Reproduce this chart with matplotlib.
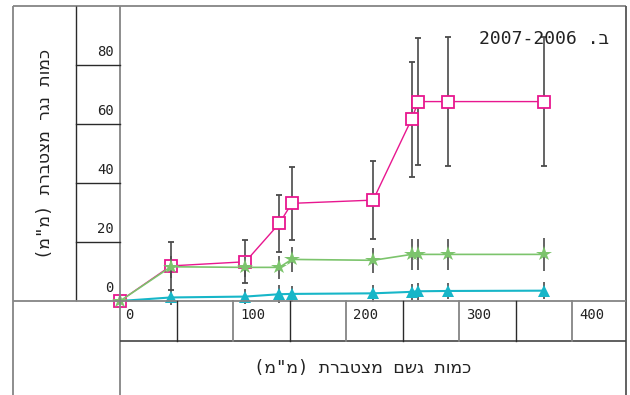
import matplotlib
matplotlib.use('Agg')
import matplotlib.pyplot as plt
from matplotlib.lines import Line2D
import matplotlib.transforms as mtransforms

# ---------------- data ----------------
rain = [0, 45, 111, 141, 152, 224, 258, 264, 290, 375]

runoff_pink = [0, 11.9, 13.3, 26.3, 33.1, 34.2, 61.6, 67.6, 67.6, 67.6]
err_pink = [0, 8.2, 7.3, 9.8, 12.4, 13.3, 19.4, 21.6, 21.9, 22.0]

runoff_green = [0, 11.6, 11.4, 11.4, 14.1, 13.8, 15.8, 15.8, 15.8, 15.8]
err_green = [0, 3.7, 3.4, 3.8, 4.2, 4.3, 5.2, 5.2, 5.2, 5.5]

runoff_cyan = [0, 1.2, 1.5, 2.3, 2.4, 2.6, 3.1, 3.3, 3.4, 3.5]
err_cyan = [0, 2.7, 2.5, 3.0, 2.7, 2.8, 2.8, 2.8, 2.8, 2.8]

x_ticks = [0, 100, 200, 300, 400]
x_cells = [50, 100, 150, 200, 250, 300, 350, 400]
y_ticks = [0, 20, 40, 60, 80]

title_text = "2007-2006 .ב"          # visual order of "ב. 2006-2007"
xlabel_text = 'כמות גשם מצטברת (מ"מ)'
ylabel_text = 'כמות נגר מצטברת (מ"מ)'


def visual(s):
    """Convert logical RTL string into visual (LTR drawing) order."""
    r = s[::-1]
    return r.translate(str.maketrans('()', ')('))


# ---------------- figure ----------------
W, H = 630, 395
plt.rcParams['font.family'] = ['DejaVu Sans Mono', 'DejaVu Sans']
fig = plt.figure(figsize=(W / 100, H / 100), dpi=100)


def fx(px):
    return px / W


def fy(py):
    return 1 - py / H


ax = fig.add_axes([fx(120), fy(301), fx(626) - fx(120), fy(6) - fy(301)])
ax.set_xlim(0, (626 - 120) / 1.13)
ax.set_ylim(0, 100)
ax.axis('off')

GREY = '#858585'
DARK = '#2a2a2a'
TXT = '#222222'


def fline(x0, y0, x1, y1, color=GREY, lw=1.3):
    fig.add_artist(Line2D([fx(x0), fx(x1)], [fy(y0), fy(y1)],
                          transform=fig.transFigure, color=color, lw=lw,
                          solid_capstyle='butt'))


# outer frame / table lines
fline(13, 6, 626, 6)
fline(13, 6, 13, 395)
fline(120, 6, 120, 395)
fline(626, 6, 626, 395, color='#555555')
fline(76, 6, 76, 301, color=DARK, lw=1.0)
fline(13, 301, 626, 301)
fline(120, 341, 626, 341, color='#444444', lw=1.2)

# y tick cell lines (data y, figure x)
ty = mtransforms.blended_transform_factory(fig.transFigure, ax.transData)
for v in y_ticks[1:]:
    fig.add_artist(Line2D([fx(76), fx(120)], [v, v], transform=ty,
                          color=DARK, lw=1.0))
# x tick cell lines (data x, figure y)
tx = mtransforms.blended_transform_factory(ax.transData, fig.transFigure)
for v in x_cells:
    c = GREY if v % 100 == 0 else DARK
    fig.add_artist(Line2D([v, v], [fy(301), fy(341)], transform=tx,
                          color=c, lw=1.3 if v % 100 == 0 else 1.0))

# tick labels
ty_off = mtransforms.offset_copy(ty, fig=fig, x=0, y=9, units='dots')
for v in y_ticks:
    fig.text(fx(114), v, str(v), transform=ty_off, ha='right', va='baseline',
             fontsize=10, color=TXT)
for v in x_ticks:
    off = 5 if v == 0 else 7
    t = mtransforms.offset_copy(tx, fig=fig, x=off, y=0, units='dots')
    fig.text(v, fy(315), str(v), transform=t, ha='left', va='center',
             fontsize=10, color=TXT)

# axis labels and title
fig.text(fx(363), fy(368), visual(xlabel_text), ha='center', va='center',
         fontsize=12.4, color=TXT)
fig.text(fx(45), fy(154), visual(ylabel_text), ha='center', va='center',
         rotation=90, fontsize=12.4, color=TXT)
fig.text(fx(609), fy(39), title_text, ha='right', va='center',
         fontsize=13, color=TXT, zorder=10)

# ---------------- series ----------------
PINK = '#e8178f'
GREEN = '#7cc46c'
CYAN = '#17b6c8'
ECOL = '#4a4a4a'

eb_kw = dict(ecolor=ECOL, elinewidth=1.2, capsize=2.2, capthick=1.2)

c = ax.errorbar(rain, runoff_cyan, yerr=err_cyan, fmt='^-', color=CYAN,
                ms=8.5, mew=0, lw=1.5, zorder=3, **eb_kw)
p = ax.errorbar(rain, runoff_pink, yerr=err_pink, fmt='s-', color=PINK,
                mfc='white', mec=PINK, ms=9, mew=1.3, lw=1.0, zorder=4,
                **eb_kw)
g = ax.errorbar(rain, runoff_green, yerr=err_green, fmt='*-', color=GREEN,
                ms=11.5, mew=0, lw=1.2, zorder=5, **eb_kw)
for cont in (c, p, g):
    cont.lines[0].set_clip_on(False)
    for art in cont.lines[1]:
        art.set_clip_on(False)
    for art in cont.lines[2]:
        art.set_clip_on(False)

fig.savefig('out.png', dpi=100)
